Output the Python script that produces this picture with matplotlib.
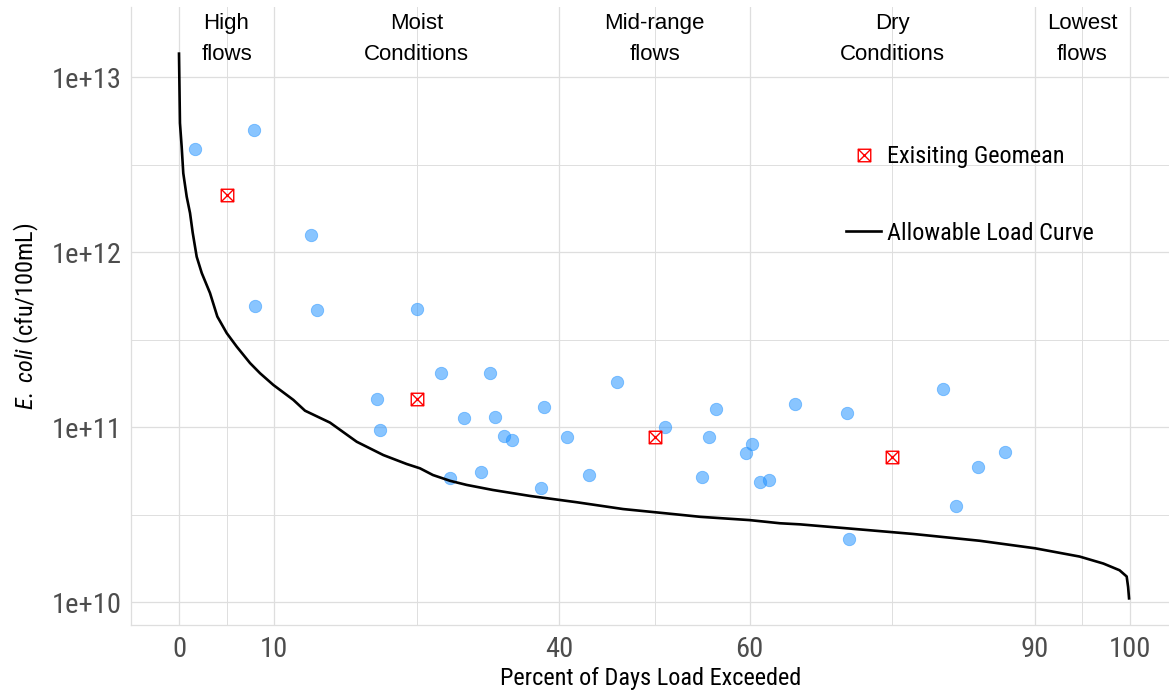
import matplotlib
matplotlib.use("Agg")
import matplotlib.pyplot as plt
from matplotlib.path import Path
from matplotlib.lines import Line2D
from matplotlib.ticker import FixedLocator, NullFormatter
import matplotlib.transforms as mtransforms

# ---------------- data ----------------
curve_x = [0.0, 0.1, 0.28, 0.45, 0.81, 1.16, 1.44, 1.86, 2.39, 3.26, 4.03, 5.02,
           6.07, 7.47, 8.52, 9.92, 12.02, 13.25, 15.88, 18.69, 21.48, 23.94, 25.34,
           26.7, 28.5, 30.25, 33.0, 36.9, 41.8, 46.7, 51.3, 54.8, 60.0, 63.2, 65.3,
           70.2, 77.2, 84.2, 90.0, 94.7, 97.2, 98.9, 99.65, 99.8, 99.9]
curve_y = [1.36e13, 5.46e12, 4.0e12, 2.82e12, 2.07e12, 1.67e12, 1.29e12, 9.4e11,
           7.59e11, 5.83e11, 4.28e11, 3.44e11, 2.88e11, 2.32e11, 2.03e11, 1.74e11,
           1.43e11, 1.24e11, 1.06e11, 8.24e10, 6.92e10, 6.15e10, 5.81e10, 5.32e10,
           4.93e10, 4.67e10, 4.37e10, 4.04e10, 3.72e10, 3.40e10, 3.21e10, 3.07e10,
           2.94e10, 2.82e10, 2.78e10, 2.64e10, 2.45e10, 2.24e10, 2.03e10, 1.82e10,
           1.66e10, 1.52e10, 1.40e10, 1.22e10, 1.05e10]

sample_x = [1.7, 7.9, 8.0, 13.9, 14.5, 20.8, 21.1, 25.0, 27.5, 28.5, 30.0, 31.8,
            32.7, 33.2, 34.2, 35.0, 38.1, 38.4, 40.8, 43.1, 46.1, 51.1, 55.0, 55.7,
            56.5, 59.6, 60.3, 61.1, 62.0, 64.8, 70.2, 70.5, 80.3, 81.7, 84.0, 86.9]
sample_y = [3.88e12, 4.98e12, 4.91e11, 1.25e12, 4.67e11, 1.45e11, 9.6e10, 4.72e11,
            2.04e11, 5.1e10, 1.12e11, 5.5e10, 2.04e11, 1.14e11, 8.9e10, 8.4e10,
            4.48e10, 1.30e11, 8.8e10, 5.3e10, 1.81e11, 1.0e11, 5.2e10, 8.8e10,
            1.27e11, 7.1e10, 8.0e10, 4.85e10, 4.98e10, 1.35e11, 1.2e11, 2.29e10,
            1.64e11, 3.55e10, 5.93e10, 7.23e10]

geomean_x = [5, 25, 50, 75]
geomean_y = [2.12e12, 1.45e11, 8.8e10, 6.7e10]

zone_x = [5, 25, 50, 75, 95]
zone_labels = ["High\nflows", "Moist\nConditions", "Mid-range\nflows",
               "Dry\nConditions", "Lowest\nflows"]

x_ticks = [0, 10, 40, 60, 90, 100]
x_minor = [-5, 5, 25, 50, 75, 95]
y_ticks = [1e10, 1e11, 1e12, 1e13]
y_tick_labels = ["1e+10", "1e+11", "1e+12", "1e+13"]
y_minor = [10 ** 10.5, 10 ** 11.5, 10 ** 12.5]

# ---------------- style ----------------
cond = ["Roboto Condensed", "Liberation Sans Narrow", "Roboto", "DejaVu Sans"]
plt.rcParams["font.family"] = cond
plt.rcParams["mathtext.fontset"] = "custom"
plt.rcParams["mathtext.it"] = "Roboto Condensed:italic"
plt.rcParams["mathtext.rm"] = "Roboto Condensed"

W, H = 1169, 698
fig = plt.figure(figsize=(W / 100, H / 100), dpi=100)
left_px, right_px, top_px, bot_px = 131.45, 1169, 7, 625
ax = fig.add_axes([left_px / W, 1 - bot_px / H, (right_px - left_px) / W,
                   (bot_px - top_px) / H])

grid_c = "#dedede"
ax.set_yscale("log")
ax.set_xlim(-5, 104.1)
ax.set_ylim(10 ** 9.869, 10 ** 13.4)

ax.xaxis.set_major_locator(FixedLocator(x_ticks))
ax.xaxis.set_minor_locator(FixedLocator(x_minor))
ax.yaxis.set_major_locator(FixedLocator(y_ticks))
ax.yaxis.set_minor_locator(FixedLocator(y_minor))
ax.set_yticklabels(y_tick_labels)
ax.xaxis.set_minor_formatter(NullFormatter())
ax.yaxis.set_minor_formatter(NullFormatter())
ax.grid(which="major", color=grid_c, linewidth=0.9)
ax.grid(which="minor", color=grid_c, linewidth=0.7)
ax.set_axisbelow(True)
ax.tick_params(which="both", length=0)
ax.tick_params(axis="both", labelsize=20.5, labelcolor="#4d4d4d")
ax.tick_params(axis="x", pad=8)
ax.tick_params(axis="y", pad=7)

for s in ["top", "right"]:
    ax.spines[s].set_visible(False)
for s in ["left", "bottom"]:
    ax.spines[s].set_color(grid_c)
    ax.spines[s].set_linewidth(0.9)

# ---------------- marks ----------------
ax.scatter(sample_x, sample_y, s=80, color="#1E90FF", alpha=0.52,
           edgecolors="#1E90FF", linewidths=0.6, zorder=3)

ax.plot(curve_x, curve_y, color="black", linewidth=1.9, zorder=4)

sqx = Path([(-1, -1), (1, -1), (1, 1), (-1, 1), (-1, -1),
            (-1, -1), (1, 1), (-1, 1), (1, -1)],
           [Path.MOVETO, Path.LINETO, Path.LINETO, Path.LINETO, Path.CLOSEPOLY,
            Path.MOVETO, Path.LINETO, Path.MOVETO, Path.LINETO])
ax.plot(geomean_x, geomean_y, linestyle="none", marker=sqx, markersize=9,
        markerfacecolor="none", markeredgecolor="#FF0000", markeredgewidth=1.0,
        zorder=5)

# zone annotations
trans = mtransforms.blended_transform_factory(ax.transData, ax.transAxes)
for zx, zl in zip(zone_x, zone_labels):
    ax.text(zx, 0.9485, zl, transform=trans, ha="center", va="center",
            fontsize=16, family=["Liberation Sans", "DejaVu Sans"],
            linespacing=1.62, color="black")

# labels
ax.set_xlabel("Percent of Days Load Exceeded", fontsize=17.5, color="black",
              labelpad=3)
ax.set_ylabel(r"$\it{E.\ coli}$ (cfu/100mL)", fontsize=17.5, color="black",
              labelpad=8)

# legend
handles = [
    Line2D([], [], linestyle="none", marker=sqx, markersize=9,
           markerfacecolor="none", markeredgecolor="#FF0000",
           markeredgewidth=1.0),
    Line2D([], [], color="black", linewidth=1.9),
]
fig.legend(handles, ["Exisiting Geomean", "Allowable Load Curve"],
           loc="center left", bbox_to_anchor=(846 / W, 1 - 195 / H),
           bbox_transform=fig.transFigure, frameon=False, fontsize=17.5,
           handlelength=1.45, handletextpad=0.22, labelspacing=2.2,
           borderpad=0, borderaxespad=0)

fig.savefig("out.png", dpi=100)
